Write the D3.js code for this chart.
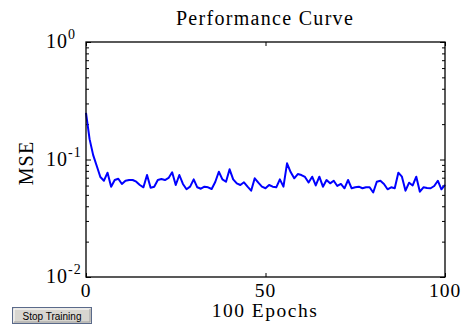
<!DOCTYPE html>
<html>
<head>
<meta charset="utf-8">
<script src="https://cdn.jsdelivr.net/npm/d3@7"></script>
<style>
  html, body { margin: 0; padding: 0; background: #fff; }
  svg { display: block; }
  .serif { font-family: "Liberation Serif", "Times New Roman", serif; fill: #000; }
</style>
</head>
<body>
<svg id="chart" width="463" height="325"></svg>
<script>
// ---- data ----
const title = "Performance Curve";
const xLabel = "100 Epochs";
const yLabel = "MSE";
const buttonLabel = "Stop Training";
const xTicks = [0, 50, 100];
const xTickLabels = ["0", "50", "100"];
const yMajorTicks = [1, 0.1, 0.01];
const yMajorExponents = ["0", "-1", "-2"];
const mse = [
  0.249, 0.149, 0.109, 0.088, 0.0710, 0.0660, 0.0772, 0.0587, 0.0669, 0.0686,
  0.0619, 0.0660, 0.0669, 0.0669, 0.0647, 0.0607, 0.0580, 0.0738, 0.0575, 0.0587,
  0.0669, 0.0682, 0.0669, 0.0696, 0.0778, 0.0607, 0.0738, 0.0619, 0.0558, 0.0587,
  0.0678, 0.0580, 0.0564, 0.0587, 0.0580, 0.0561, 0.0643, 0.0787, 0.0678, 0.0647,
  0.0825, 0.0678, 0.0627, 0.0607, 0.0640, 0.0587, 0.0543, 0.0692, 0.0635, 0.0587,
  0.0569, 0.0607, 0.0587, 0.0580, 0.0678, 0.0587, 0.0928, 0.0782, 0.0692, 0.0752,
  0.0738, 0.0710, 0.0637, 0.0714, 0.0601, 0.0714, 0.0587, 0.0669, 0.0627, 0.0660,
  0.0595, 0.0619, 0.0569, 0.0669, 0.0569, 0.0580, 0.0587, 0.0569, 0.0580, 0.0580,
  0.0524, 0.0647, 0.0660, 0.0619, 0.0558, 0.0580, 0.0569, 0.0772, 0.0714, 0.0543,
  0.0635, 0.0601, 0.0714, 0.0532, 0.0580, 0.0572, 0.0569, 0.0595, 0.0660, 0.0558,
  0.0607
];

// ---- layout ----
const svg = d3.select("#chart");
const L = 86, R = 445, T = 42, B = 277;
const x = d3.scaleLinear().domain([0, 100]).range([L, R]);
const y = d3.scaleLog().domain([0.01, 1]).range([B, T]);

// minor log ticks
const yMinor = y.ticks().filter(v => !yMajorTicks.some(m => Math.abs(m - v) < 1e-12));

function styleAxis(g) {
  g.select(".domain").remove();
  g.selectAll(".tick line").attr("stroke", "#000").attr("stroke-width", 1);
  g.selectAll(".tick text").remove();
}

// x ticks bottom & top (inward)
svg.append("g").attr("transform", `translate(0,${B})`)
  .call(d3.axisBottom(x).tickValues(xTicks).tickSize(-4)).call(styleAxis);
svg.append("g").attr("transform", `translate(0,${T})`)
  .call(d3.axisTop(x).tickValues(xTicks).tickSize(-4)).call(styleAxis);

// y ticks left & right (inward)
svg.append("g").attr("transform", `translate(${L},0)`)
  .call(d3.axisLeft(y).tickValues(yMinor).tickSize(-3)).call(styleAxis);
svg.append("g").attr("transform", `translate(${L},0)`)
  .call(d3.axisLeft(y).tickValues(yMajorTicks).tickSize(-5)).call(styleAxis);
svg.append("g").attr("transform", `translate(${R},0)`)
  .call(d3.axisRight(y).tickValues(yMinor).tickSize(-3)).call(styleAxis);
svg.append("g").attr("transform", `translate(${R},0)`)
  .call(d3.axisRight(y).tickValues(yMajorTicks).tickSize(-5)).call(styleAxis);

// curve
const line = d3.line().x((d, i) => x(i)).y(d => y(d));
svg.append("path").datum(mse)
  .attr("d", line)
  .attr("fill", "none")
  .attr("stroke", "#0000ff")
  .attr("stroke-width", 2)
  .attr("stroke-linejoin", "round");

// frame
svg.append("rect").attr("x", L).attr("y", T).attr("width", R - L).attr("height", B - T)
  .attr("fill", "none").attr("stroke", "#000").attr("stroke-width", 1.3);

// x tick labels
svg.selectAll(".xtl").data(xTicks).enter().append("text")
  .attr("class", "serif")
  .attr("x", d => x(d)).attr("y", 296.5)
  .attr("text-anchor", "middle")
  .attr("font-size", 19.5).attr("letter-spacing", 1)
  .text((d, i) => xTickLabels[i]);

// y tick labels (10^n)
yMajorTicks.forEach((v, i) => {
  const t = svg.append("text").attr("class", "serif")
    .attr("x", 46).attr("y", y(v) + 6)
    .attr("font-size", 20).attr("letter-spacing", 1);
  t.append("tspan").text("10");
  t.append("tspan").attr("dy", -9).attr("font-size", 14).text(yMajorExponents[i]);
});

// title
svg.append("text").attr("class", "serif")
  .attr("x", 265).attr("y", 25).attr("text-anchor", "middle")
  .attr("font-size", 20).attr("letter-spacing", 1.3)
  .text(title);

// x label
svg.append("text").attr("class", "serif")
  .attr("x", 265).attr("y", 316.5).attr("text-anchor", "middle")
  .attr("font-size", 19.5).attr("letter-spacing", 1.5)
  .text(xLabel);

// y label
svg.append("text").attr("class", "serif")
  .attr("transform", "translate(33,163) rotate(-90)")
  .attr("text-anchor", "middle")
  .attr("font-size", 20).attr("letter-spacing", 1.2)
  .text(yLabel);

// button
const btn = svg.append("g");
btn.append("rect").attr("x", 12.5).attr("y", 307.5).attr("width", 79).attr("height", 16)
  .attr("fill", "#d8d6d0").attr("stroke", "#5a6a8a");
btn.append("path").attr("d", "M14,322 V309 H90").attr("fill", "none").attr("stroke", "#ffffff");
btn.append("path").attr("d", "M14,322 H90 V309").attr("fill", "none").attr("stroke", "#a0a0a0");
btn.append("text").attr("x", 52).attr("y", 319.5).attr("text-anchor", "middle")
  .attr("font-family", "Liberation Sans, Arial, sans-serif").attr("font-size", 10)
  .attr("fill", "#000").text(buttonLabel);
</script>
</body>
</html>
